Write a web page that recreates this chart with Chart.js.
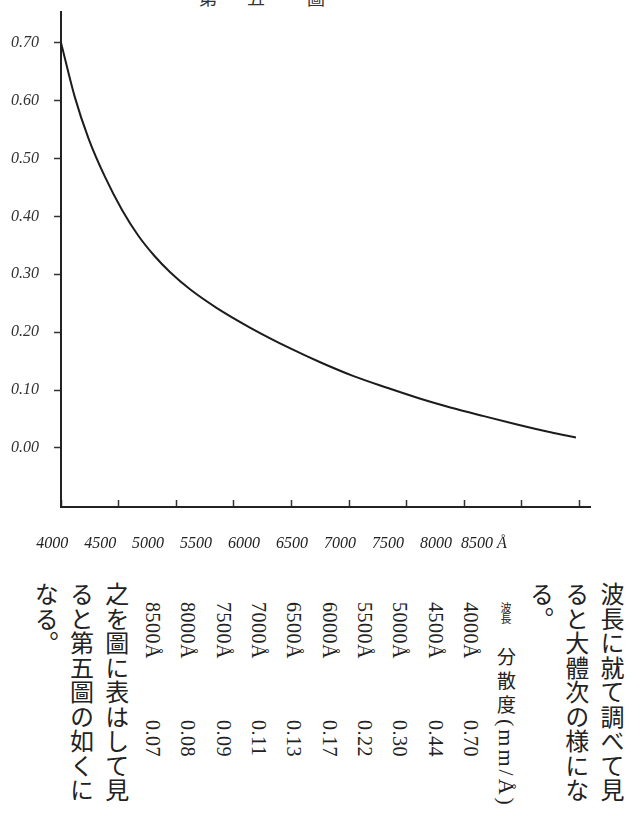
<!DOCTYPE html>
<html lang="ja">
<head>
<meta charset="utf-8">
<script src="https://cdn.jsdelivr.net/npm/chart.js@4.4.1/dist/chart.umd.min.js"></script>
<style>
  html, body { margin: 0; padding: 0; background: #fff; }
  body { width: 632px; height: 813px; position: relative; overflow: hidden; }
  #chartBox { position: absolute; left: 0; top: 0; width: 632px; height: 560px; }
  #title { position: absolute; top: -16px; left: 199px; font: 18px "Noto Sans CJK JP"; color: #333; white-space: nowrap; }
  #title span { display: inline-block; }
  #text { position: absolute; right: 2px; top: 582px; writing-mode: vertical-rl; font-family: "Noto Sans CJK JP"; font-size: 24px; line-height: 35.3px; color: #222; white-space: nowrap; }
  #text .col { letter-spacing: 0.5px; }
  #text .row { font-family: "Liberation Serif"; font-size: 20px; padding-top: 20px; }
  #text .row .w { display: inline-block; height: 118px; }
  #text .head { padding-top: 20px; font-size: 19px; letter-spacing: 5px; }
  #text .head .w { display: inline-block; height: 45px; font-size: 11px; letter-spacing: 0; }
  #text .head .mm { font-family: "Liberation Serif"; font-size: 22px; letter-spacing: 3px; }
</style>
</head>
<body>
<div id="title"><span style="margin-right:30px">第</span><span style="margin-right:42px">五</span><span>圖</span></div>
<div id="chartBox"><canvas id="myChart" width="632" height="560"></canvas></div>
<div id="text"></div>
<script>
"use strict";

// curve (wavelength in Å, dispersion mm/Å)
const curveWavelengths = [4000, 4120, 4240, 4380, 4530, 4670, 4810, 4950, 5120, 5350, 5640, 6000, 6250, 6540, 6830, 7120, 7380, 7670, 7950, 8250, 8470];
const curveValues = [0.70, 0.606, 0.534, 0.469, 0.411, 0.367, 0.332, 0.303, 0.274, 0.242, 0.208, 0.171, 0.148, 0.124, 0.104, 0.085, 0.070, 0.055, 0.041, 0.027, 0.018];

// axis ticks
const xTickValues = [4000, 4500, 5000, 5500, 6000, 6500, 7000, 7500, 8000, 8500];
const xTickLabels = ["4000", "4500", "5000", "5500", "6000", "6500", "7000", "7500", "8000", "8500 Å"];
const yTickValues = [0, 0.1, 0.2, 0.3, 0.4, 0.5, 0.6, 0.7];
const yTickLabels = ["0.00", "0.10", "0.20", "0.30", "0.40", "0.50", "0.60", "0.70"];

// printed table under the figure
const tableWavelengths = ["4000Å", "4500Å", "5000Å", "5500Å", "6000Å", "6500Å", "7000Å", "7500Å", "8000Å", "8500Å"];
const tableDispersion = ["0.70", "0.44", "0.30", "0.22", "0.17", "0.13", "0.11", "0.09", "0.08", "0.07"];
const textBefore = ["波長に就て調べて見", "ると大體次の様にな", "る。"];
const textAfter = ["之を圖に表はして見", "ると第五圖の如くに", "なる。"];

const handFont = { family: "Liberation Serif", size: 16, style: "italic" };
const ink = "#222";

let html = "";
textBefore.forEach(function (t) { html += '<div class="col">' + t + "</div>"; });
html += '<div class="col head"><span class="w">波長</span>分散度<span class="mm">(mm/Å)</span></div>';
tableWavelengths.forEach(function (w, i) {
  html += '<div class="col row"><span class="w">' + w + "</span>" + tableDispersion[i] + "</div>";
});
textAfter.forEach(function (t) { html += '<div class="col">' + t + "</div>"; });
document.getElementById("text").innerHTML = html;

const points = curveWavelengths.map((x, i) => ({ x: x, y: curveValues[i] }));

const config = {
  type: "line",
  data: {
    datasets: [
      {
        data: points,
        borderColor: "#1c1c1c",
        borderWidth: 2,
        pointRadius: 0,
        fill: false,
        cubicInterpolationMode: "monotone",
      },
    ],
  },
  options: {
    responsive: false,
    animation: false,
    layout: { padding: { top: 12, right: 42, left: 0, bottom: 0 } },
    plugins: { legend: { display: false }, tooltip: { enabled: false } },
    scales: {
      x: {
        type: "linear",
        position: "bottom",
        min: 4000,
        max: 8592,
        afterBuildTicks: (s) => { s.ticks = xTickValues.map((v) => ({ value: v })); },
        afterFit: (s) => { s.height = 0; },
        ticks: { display: false },
        grid: { drawOnChartArea: false, drawTicks: true, tickLength: -7, tickColor: "#333", tickWidth: 1.5 },
        border: { display: true, color: ink, width: 2 },
      },
      x2: {
        type: "linear",
        position: "bottom",
        min: 4092,
        max: 9606,
        afterBuildTicks: (s) => { s.ticks = xTickValues.map((v) => ({ value: v })); },
        afterFit: (s) => { s.height = 53; },
        ticks: {
          callback: (v, i) => xTickLabels[i],
          autoSkip: false,
          maxRotation: 0,
          minRotation: 0,
          font: handFont,
          color: ink,
          padding: 19,
        },
        grid: { display: false },
        border: { display: false },
      },
      y: {
        type: "linear",
        min: -0.102,
        max: 0.753,
        afterBuildTicks: (s) => { s.ticks = yTickValues.map((v) => ({ value: v })); },
        afterFit: (s) => {
          s.width = 61;
          s.paddingTop = 0;
          s.paddingBottom = 0;
        },
        ticks: {
          callback: (v, i) => yTickLabels[i],
          font: handFont,
          color: "#333",
          padding: 15,
        },
        grid: { drawOnChartArea: false, tickLength: 7, tickColor: "#333", tickWidth: 1.5 },
        border: { color: ink, width: 2 },
      },
    },
  },
};

let chart = new Chart(document.getElementById("myChart"), config);
</script>
</body>
</html>
